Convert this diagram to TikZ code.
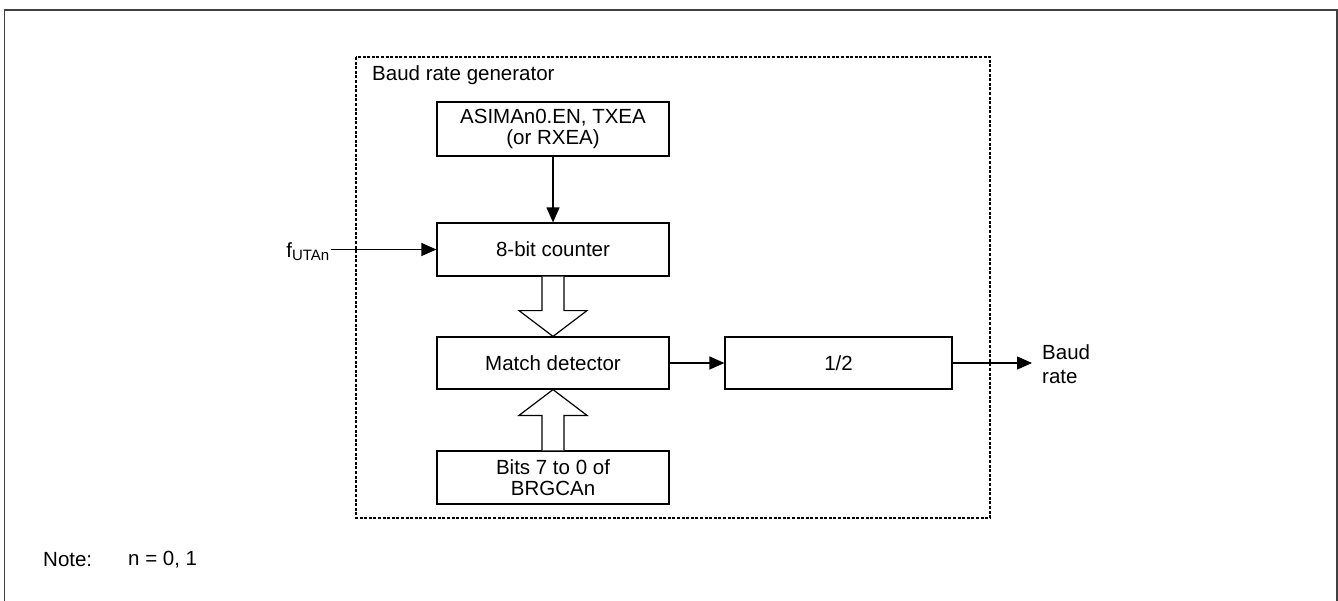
\documentclass[tikz,border=0pt]{standalone}
\usepackage{fontspec}
\setmainfont{Liberation Sans}
\usetikzlibrary{arrows.meta,calc}
\begin{document}
\begin{tikzpicture}[x=1pt,y=-1pt,
  every node/.style={font=\fontsize{20.5}{21}\selectfont},
  blk/.style={draw, line width=1.2pt, inner sep=0pt, align=center, minimum height=53pt},
  arr/.style={line width=1.2pt, -{Triangle[length=15pt,width=13pt]}},
  hollow/.style={draw, line width=1.2pt, fill=white, line join=miter},
  frame/.style={draw=black!75, line width=1.8pt},
  dotbox/.style={draw, line width=1.2pt, dash pattern=on 3pt off 1.6pt}
]
\useasboundingbox (0,0) rectangle (1338,600);
% outer frame (bottom edge lies beyond the picture)
\draw[frame] (4.5,610) -- (4.5,10) -- (1337,10) -- (1337,610);
% dotted box
\draw[dotbox] (356,57) rectangle (990,518);
\node[anchor=west, inner sep=0pt] (title) at (372,75) {Baud rate generator};
% blocks
\node[blk, minimum width=232pt, minimum height=54pt] (asim) at (553,129) {ASIMAn0.EN, TXEA\\(or RXEA)};
\node[blk, minimum width=232pt] (cnt) at (553,249.5) {8-bit counter};
\node[blk, minimum width=232pt, minimum height=52pt] (match) at (553,363) {Match detector};
\node[blk, minimum width=232pt] (bits) at (553,477.5) {Bits 7 to 0 of\\BRGCAn};
\node[blk, minimum width=227pt, minimum height=52pt] (half) at (838.5,363) {1/2};
% input
\node[anchor=east, inner sep=1pt] (fin) at (331,252) {f\textsubscript{\fontsize{15}{15}\selectfont UTAn}};
\draw[arr] (fin.east |- cnt.west) -- (cnt.west);
\draw[arr] (asim.south) -- (cnt.north);
% hollow arrows
\draw[hollow] ($(cnt.south)+(-11,0)$) -- ($(cnt.south)+(-11,34)$) -- ($(cnt.south)+(-34,34)$)
  -- (match.north) -- ($(cnt.south)+(34,34)$) -- ($(cnt.south)+(11,34)$) -- ($(cnt.south)+(11,0)$);
\draw[hollow] ($(bits.north)+(-11,0)$) -- ($(bits.north)+(-11,-35)$) -- ($(bits.north)+(-34,-35)$)
  -- (match.south) -- ($(bits.north)+(34,-35)$) -- ($(bits.north)+(11,-35)$) -- ($(bits.north)+(11,0)$);
% outputs
\draw[arr] (match.east) -- (half.west);
\coordinate (outend) at (1032,363);
\draw[arr] (half.east) -- (outend);
\node[anchor=west, align=left, inner sep=0pt, font=\fontsize{20.5}{24}\selectfont] (baud) at (1042,364) {Baud\\rate};
% note
\node[anchor=west, inner sep=0pt] (note) at (43,560) {Note:};
\node[anchor=west, inner sep=0pt] (noten) at (128,560) {n = 0, 1};
\end{tikzpicture}
\end{document}
